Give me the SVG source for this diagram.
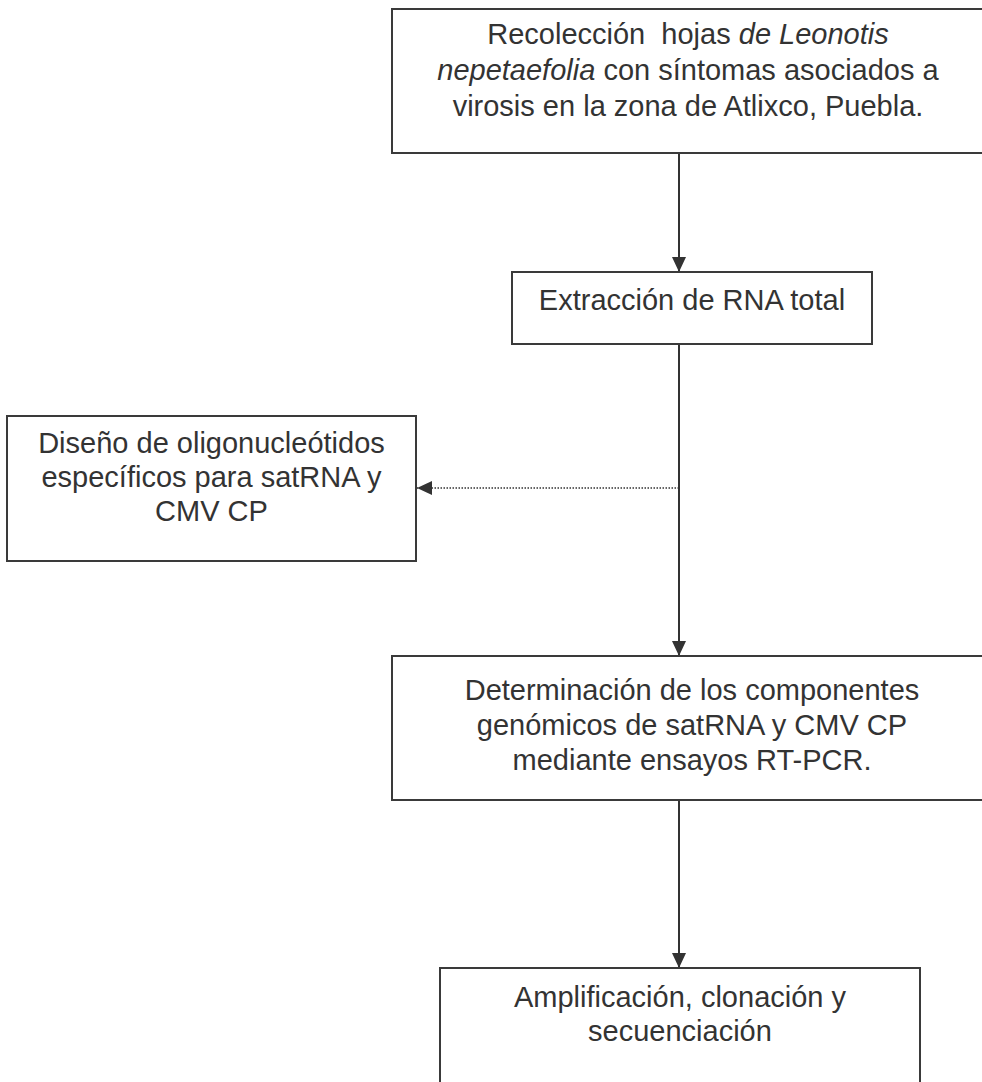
<svg xmlns="http://www.w3.org/2000/svg" width="982" height="1082" viewBox="0 0 982 1082">
  <defs>
    <marker id="arrow" markerUnits="userSpaceOnUse" markerWidth="15" markerHeight="14" refX="15" refY="7" orient="auto">
      <path d="M0,0 L15,7 L0,14 Z" fill="#333"/>
    </marker>
  </defs>
  <style>
    .box { fill: #fff; stroke: #3a3a3a; stroke-width: 2; }
    .lbl { font-family: "Liberation Sans", Arial, sans-serif; font-size: 29px; fill: #333; text-anchor: middle; white-space: pre; }
    .it { font-style: italic; }
    .link { stroke: #333; stroke-width: 2; fill: none; }
    .dot { stroke: #333; stroke-width: 1.5; stroke-dasharray: 1.5 1.5; fill: none; }
  </style>
  <rect width="982" height="1082" fill="#fff"/>

  <!-- connectors -->
  <g id="connectors">
    <line class="link" x1="679" y1="153" x2="679" y2="272" marker-end="url(#arrow)"/>
    <line class="link" x1="679" y1="344" x2="679" y2="656" marker-end="url(#arrow)"/>
    <line class="dot" x1="679" y1="488" x2="417" y2="488" marker-end="url(#arrow)"/>
    <line class="link" x1="679" y1="800" x2="679" y2="968" marker-end="url(#arrow)"/>
  </g>

  <!-- collection step -->
  <g id="recoleccion">
    <rect class="box" x="392" y="9" width="594" height="144"/>
    <text class="lbl" x="688" y="44">Recolección  hojas <tspan class="it">de Leonotis</tspan></text>
    <text class="lbl" x="688" y="80"><tspan class="it">nepetaefolia</tspan> con síntomas asociados a</text>
    <text class="lbl" x="688" y="116">virosis en la zona de Atlixco, Puebla.</text>
  </g>

  <!-- RNA extraction -->
  <g id="extraccion">
    <rect class="box" x="512" y="272" width="360" height="72"/>
    <text class="lbl" x="692" y="310">Extracción de RNA total</text>
  </g>

  <!-- primer design -->
  <g id="diseno">
    <rect class="box" x="7" y="416" width="409" height="145"/>
    <text class="lbl" x="211.5" y="453">Diseño de oligonucleótidos</text>
    <text class="lbl" x="211.5" y="487">específicos para satRNA y</text>
    <text class="lbl" x="211.5" y="521">CMV CP</text>
  </g>

  <!-- RT-PCR -->
  <g id="determinacion">
    <rect class="box" x="392" y="656" width="594" height="144"/>
    <text class="lbl" x="692" y="700">Determinación de los componentes</text>
    <text class="lbl" x="692" y="735">genómicos de satRNA y CMV CP</text>
    <text class="lbl" x="692" y="770">mediante ensayos RT-PCR.</text>
  </g>

  <!-- amplification, cloning, sequencing -->
  <g id="amplificacion">
    <rect class="box" x="440" y="968" width="480" height="130"/>
    <text class="lbl" x="680" y="1007">Amplificación, clonación y</text>
    <text class="lbl" x="680" y="1040.5">secuenciación</text>
  </g>
</svg>
